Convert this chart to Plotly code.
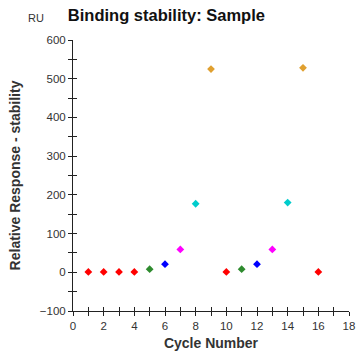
import plotly.graph_objects as go

cycles_buffer = [1, 2, 3, 4, 10, 16]
resp_buffer = [1, 1, 1, 1, 1, 1]
cycles_c1 = [5, 11]
resp_c1 = [8, 8]
cycles_c2 = [6, 12]
resp_c2 = [21, 21]
cycles_c3 = [7, 13]
resp_c3 = [59, 59]
cycles_c4 = [8, 14]
resp_c4 = [177, 180]
cycles_c5 = [9, 15]
resp_c5 = [525, 528]

groups = [
    (cycles_buffer, resp_buffer, "#ff0000"),
    (cycles_c1, resp_c1, "#2e8b2e"),
    (cycles_c2, resp_c2, "#0000ff"),
    (cycles_c3, resp_c3, "#ff00ff"),
    (cycles_c4, resp_c4, "#00cccc"),
    (cycles_c5, resp_c5, "#e0a030"),
]

fig = go.Figure()
for xs, ys, col in groups:
    fig.add_trace(go.Scatter(x=xs, y=ys, mode="markers",
                             marker=dict(symbol="diamond", size=6, color=col),
                             showlegend=False, hoverinfo="skip"))

font = "Liberation Sans, Arial, sans-serif"
common = dict(showgrid=False, zeroline=False, showline=True, linecolor="#222",
              linewidth=1, tickcolor="#222", ticklen=4, tickwidth=1, automargin=False,
              ticklabeloverflow="allow")

fig.update_layout(
    width=357, height=362,
    margin=dict(l=73, r=8, t=40, b=51, autoexpand=False),
    plot_bgcolor="white", paper_bgcolor="white",
    font=dict(family=font, size=11.5, color="#333"),
    title=dict(text="<b>Binding stability: Sample</b>", x=0.19, xanchor="left",
               y=0.958, yanchor="middle", font=dict(size=16.5, color="#111")),
    xaxis=dict(range=[0, 18], dtick=2, ticks="outside",
               minor=dict(dtick=1, ticks="outside", ticklen=4, tickcolor="#222"),
               title=dict(text="<b>Cycle Number</b>", font=dict(size=14, color="#333"), standoff=7),
               **common),
    yaxis=dict(range=[-100, 600], dtick=100, ticks="outside",
               minor=dict(dtick=50, ticks="outside", ticklen=4, tickcolor="#222"),
               title=dict(text="<b>Relative Response - stability</b>", font=dict(size=14, color="#333"), standoff=15),
               **common),
    xaxis2=dict(range=[0, 18], dtick=1, ticks="inside", ticklen=4, tickcolor="#222",
                showticklabels=False, overlaying="x", showgrid=False, zeroline=False,
                showline=False, side="bottom", automargin=False),
    yaxis2=dict(range=[-100, 600], dtick=50, ticks="inside", ticklen=4, tickcolor="#222",
                showticklabels=False, overlaying="y", showgrid=False, zeroline=False,
                showline=False, side="left", automargin=False),
)
fig.add_trace(go.Scatter(x=[None], y=[None], xaxis="x2", yaxis="y2", showlegend=False))
fig.add_annotation(text="RU", xref="paper", yref="paper", x=-0.134, y=1.081,
                   xanchor="center", yanchor="middle", showarrow=False,
                   font=dict(size=11, color="#333"))
fig.write_html("out.html", config={"displayModeBar": False},
               post_script="document.body.style.margin='0';document.body.style.padding='0';document.body.style.overflow='hidden';")
